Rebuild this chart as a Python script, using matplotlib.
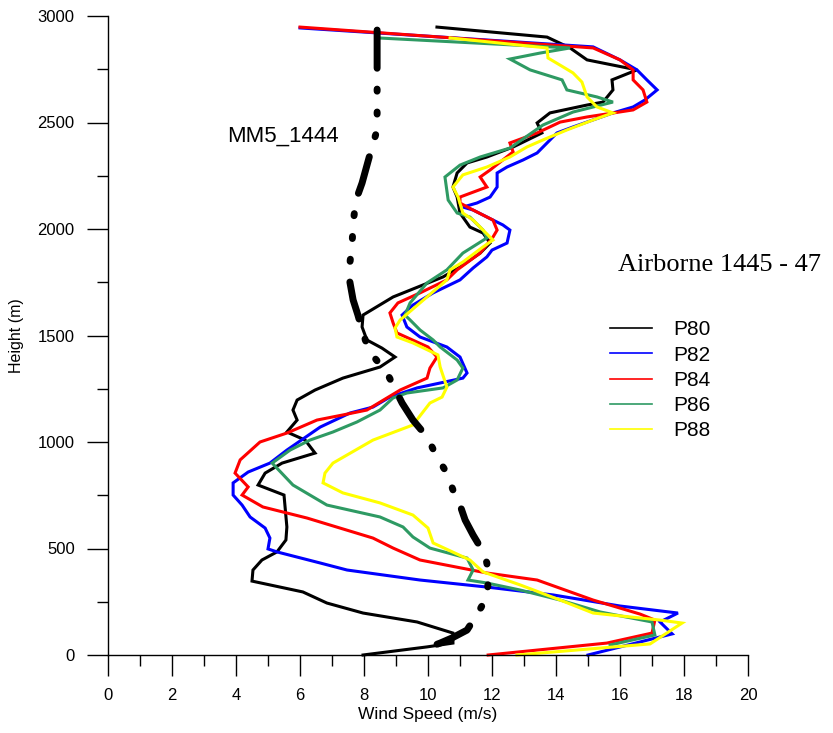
import matplotlib
matplotlib.use("Agg")
import matplotlib.pyplot as plt
from matplotlib.lines import Line2D
from matplotlib.ticker import MultipleLocator

# ---- data (wind speed m/s, height m) ----
mm5_speed = [8.41, 8.41, 8.41, 8.41, 8.25, 7.94, 7.75, 7.66, 7.63, 7.56, 7.53, 7.66, 7.81, 7.94,
             8.06, 8.31, 8.72, 9.19, 9.53, 9.97, 10.28, 10.59, 10.78, 11.0, 11.16, 11.41, 11.69,
             11.84, 11.88, 11.84, 11.56, 11.22, 10.75, 10.38, 9.97]
mm5_height = [2934, 2747, 2559, 2465, 2385, 2216, 2136, 2028, 1934, 1840, 1775, 1667, 1596, 1526,
              1470, 1399, 1324, 1183, 1103, 1024, 930, 854, 775, 704, 634, 563, 493,
              432, 343, 272, 197, 117, 80, 56, 33]

p80_speed = [7.97, 9.97, 10.78, 10.78, 9.66, 7.97, 6.84, 6.09, 4.5, 4.53, 4.81, 5.28, 5.56, 5.59,
             5.5, 4.69, 4.91, 5.44, 6.47, 6.16, 5.59, 5.91, 5.78, 5.91, 6.47, 7.34, 8.5, 8.97,
             8.56, 8.09, 7.94, 7.97, 8.91, 10.47, 11.0, 11.63, 11.94, 11.72, 11.31, 11.0, 10.91,
             10.78, 10.91, 11.22, 11.84, 12.66, 13.56, 13.41, 13.81, 14.97, 15.47, 15.78, 15.75,
             16.53, 14.97, 14.44, 13.72, 10.28]
p80_height = [0, 38, 56, 103, 155, 197, 244, 296, 347, 399, 446, 484, 540, 601,
              751, 798, 854, 901, 948, 1009, 1047, 1103, 1150, 1197, 1244, 1300, 1352, 1399,
              1441, 1479, 1540, 1596, 1681, 1775, 1822, 1887, 1934, 1981, 2009, 2075, 2150,
              2197, 2263, 2310, 2338, 2385, 2451, 2498, 2545, 2582, 2596, 2653, 2700,
              2747, 2794, 2850, 2901, 2948]

p82_speed = [15.0, 17.63, 17.25, 17.81, 16.0, 13.91, 11.84, 9.75, 7.47, 6.63, 5.28, 5.0, 5.06,
             4.91, 4.44, 4.19, 3.91, 3.91, 4.38, 5.06, 5.59, 6.63, 7.56, 8.28, 8.81, 9.66, 10.38,
             11.09, 11.22, 11.0, 10.59, 9.75, 9.34, 9.19, 9.53, 10.16, 11.0, 11.41, 11.84, 12.0,
             12.47, 12.56, 12.34, 12.03, 11.41, 11.09, 11.53, 11.94, 12.16, 12.16, 12.47, 12.97,
             13.41, 13.72, 14.03, 14.53, 15.78, 16.41, 16.78, 17.16, 16.84, 16.53, 16.0, 15.16, 6.0]
p82_height = [0, 99, 155, 197, 230, 282, 319, 352, 399, 432, 484, 498, 549,
              596, 648, 704, 751, 808, 859, 901, 962, 1070, 1136, 1164, 1211, 1254, 1277,
              1300, 1324, 1399, 1446, 1493, 1540, 1596, 1643, 1700, 1761, 1817, 1869, 1901,
              1934, 1995, 2019, 2042, 2089, 2103, 2122, 2150, 2197, 2263, 2291, 2324,
              2357, 2404, 2451, 2479, 2545, 2573, 2606, 2653, 2700, 2747, 2794, 2855, 2944]

p84_speed = [11.88, 15.59, 17.0, 17.09, 16.63, 15.16, 13.41, 11.84, 9.75, 8.91, 8.28, 7.25, 6.22,
             4.84, 4.19, 4.38, 3.97, 4.13, 4.75, 5.59, 6.53, 7.34, 8.09, 8.72, 9.13, 9.97, 10.06,
             10.28, 10.0, 9.03, 8.91, 8.81, 9.06, 9.75, 10.59, 10.91, 11.63, 12.03, 12.16, 12.03,
             11.41, 11.0, 11.0, 11.84, 11.63, 11.94, 12.66, 12.56, 13.41, 14.13, 14.97, 16.41,
             16.84, 16.72, 16.41, 16.41, 16.0, 15.16, 6.0]
p84_height = [0, 56, 103, 164, 192, 258, 352, 385, 446, 502, 549, 596, 643,
              695, 751, 789, 854, 916, 1000, 1042, 1103, 1127, 1150, 1207, 1244, 1300, 1347,
              1399, 1446, 1512, 1559, 1606, 1653, 1700, 1761, 1808, 1887, 1962, 1995, 2042,
              2089, 2122, 2150, 2197, 2244, 2277, 2362, 2404, 2451, 2502, 2526, 2559,
              2596, 2653, 2700, 2747, 2794, 2850, 2948]

p86_speed = [15.69, 17.09, 17.0, 15.38, 14.13, 12.88, 11.84, 11.25, 11.41, 11.22, 10.06, 9.53,
             9.22, 8.5, 6.84, 5.78, 5.13, 5.69, 6.31, 7.03, 7.78, 8.5, 8.91, 9.34, 10.47, 10.91,
             11.09, 10.91, 10.38, 10.16, 9.75, 9.44, 9.28, 9.44, 9.97, 10.59, 11.09, 11.84,
             11.72, 11.31, 10.91, 10.63, 10.53, 11.0, 11.63, 12.56, 13.59, 14.53, 15.78, 15.28,
             14.34, 14.19, 13.19, 12.56, 13.5, 14.44, 8.44]
p86_height = [47, 94, 155, 202, 258, 305, 338, 352, 399, 455, 502, 554,
              601, 648, 704, 798, 901, 962, 1009, 1047, 1094, 1150, 1207, 1230, 1254, 1291,
              1347, 1385, 1446, 1479, 1526, 1573, 1596, 1653, 1747, 1808, 1887, 1958,
              1995, 2056, 2075, 2136, 2244, 2300, 2338, 2380, 2488, 2549, 2596, 2620,
              2653, 2700, 2747, 2798, 2826, 2850, 2897]

p88_speed = [12.78, 16.94, 17.94, 17.25, 15.16, 14.13, 12.88, 11.72, 11.31, 10.16, 10.0, 9.53,
             8.5, 7.34, 6.72, 6.78, 7.03, 8.28, 9.53, 10.06, 10.44, 10.59, 10.38, 10.31, 9.53,
             9.03, 8.97, 9.13, 9.75, 10.59, 10.69, 11.09, 11.72, 12.03, 11.72, 11.41, 11.09,
             10.94, 10.78, 11.09, 11.84, 12.56, 13.09, 13.59, 14.34, 15.16, 15.78, 15.28, 14.97,
             14.81, 14.53, 14.22, 13.75, 13.72, 10.69]
p88_height = [0, 52, 150, 164, 197, 258, 329, 390, 446, 526, 596, 657,
              714, 761, 808, 854, 901, 1009, 1080, 1183, 1211, 1258, 1352, 1409, 1465,
              1493, 1535, 1573, 1653, 1761, 1808, 1845, 1916, 1948, 1995, 2042, 2075,
              2150, 2197, 2254, 2291, 2338, 2385, 2418, 2465, 2512, 2545, 2573, 2620,
              2690, 2733, 2761, 2803, 2850, 2897]

series_names = ["P80", "P82", "P84", "P86", "P88"]
series_colors = ["#000000", "#0000FF", "#FF0000", "#2E9A63", "#FFFF00"]

plt.rcParams['font.family'] = ['Liberation Sans', 'DejaVu Sans']

fig = plt.figure(figsize=(8.33, 7.33), dpi=100)
ax = fig.add_axes([108/833, 1-655/733, 640/833, 639/733])

speeds = [p80_speed, p82_speed, p84_speed, p86_speed, p88_speed]
heights = [p80_height, p82_height, p84_height, p86_height, p88_height]
for s, h, c in zip(speeds, heights, series_colors):
    ax.plot(s, h, color=c, lw=2.2, solid_joinstyle='miter', clip_on=False)

ax.plot(mm5_speed, mm5_height, color='black', lw=5.0,
        linestyle=(0, (5.5, 3.0, 0.3, 3.0, 0.3, 3.0, 0.3, 3.0)),
        dash_capstyle='round', clip_on=False)

ax.set_xlim(0, 20)
ax.set_ylim(0, 3000)
ax.xaxis.set_major_locator(MultipleLocator(2))
ax.xaxis.set_minor_locator(MultipleLocator(1))
ax.yaxis.set_major_locator(MultipleLocator(500))
ax.yaxis.set_minor_locator(MultipleLocator(250))
ax.tick_params(which='major', direction='out', length=15, width=1.0, labelsize=12, pad=9)
ax.tick_params(which='minor', direction='out', length=8, width=1.0)
for sp in ['top', 'right']:
    ax.spines[sp].set_visible(False)
for sp in ['left', 'bottom']:
    ax.spines[sp].set_linewidth(1.0)

ax.set_xlabel("Wind Speed (m/s)", fontsize=12.5, labelpad=3)
ax.set_ylabel("Height (m)", fontsize=11.5, labelpad=10)

ax.text(5.47, 2437, "MM5_1444", fontsize=16, ha='center', va='center')

fig.text(618/833, 1-265/733, "Airborne 1445 - 47", fontsize=19,
         family=['Liberation Serif', 'DejaVu Serif'], ha='left', va='center')

handles = [Line2D([], [], color=c, lw=1.2) for c in series_colors]
leg = ax.legend(handles, series_names, loc='upper left', bbox_to_anchor=(600/833, 1-310/733),
                bbox_transform=fig.transFigure, frameon=False, fontsize=15,
                handlelength=2.0, handletextpad=1.0, labelspacing=0.3, borderpad=0)

fig.savefig("out.png", dpi=100)
